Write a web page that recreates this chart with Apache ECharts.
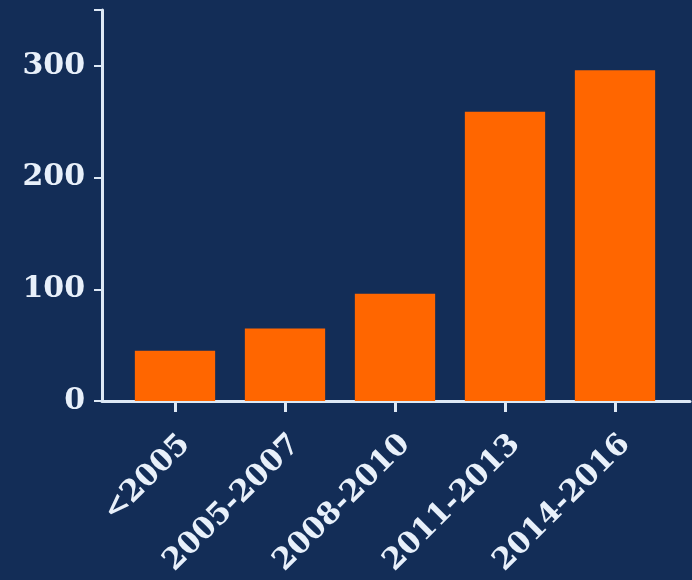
<!DOCTYPE html>
<html>
<head>
<meta charset="utf-8">
<script src="https://cdn.jsdelivr.net/npm/echarts@6/dist/echarts.min.js"></script>
<style>
html,body{margin:0;padding:0;background:#132d57;}
#chart{width:692px;height:580px;}
</style>
</head>
<body>
<div id="chart"></div>
<script>
const categories = ['<2005', '2005-2007', '2008-2010', '2011-2013', '2014-2016'];
const values = [45, 65, 96, 259, 296];
const yTicks = [0, 100, 200, 300];

const textColor = '#e8f0fa';
const lineColor = '#dde8f5';
const font = 'DejaVu Serif';

const chart = echarts.init(document.getElementById('chart'));
chart.setOption({
  backgroundColor: '#132d57',
  animation: false,
  grid: [
    {left: 102, right: 2, top: 10, bottom: 179},
    {left: 120, right: 22, top: 10, bottom: 179}
  ],
  xAxis: [
    {
      gridIndex: 0, type: 'value', min: 0, max: 1,
      axisLine: {show: true, onZero: false, lineStyle: {color: lineColor, width: 3}},
      axisTick: {show: false}, axisLabel: {show: false}, splitLine: {show: false}
    },
    {
      gridIndex: 1, type: 'category', data: categories,
      axisLine: {show: false},
      axisTick: {show: true, alignWithLabel: true, length: 11, lineStyle: {color: lineColor, width: 3}},
      axisLabel: {rotate: 45, margin: 28, verticalAlign: 'top', color: textColor, fontFamily: font, fontWeight: 'bold', fontSize: 30},
      splitLine: {show: false}
    }
  ],
  yAxis: [
    {
      gridIndex: 0, type: 'value', min: 0, max: 350, interval: 100,
      axisLine: {show: true, lineStyle: {color: lineColor, width: 3}},
      axisTick: {show: true, length: 8, lineStyle: {color: lineColor, width: 2}},
      axisLabel: {
        margin: 17, color: textColor, fontFamily: font, fontWeight: 'bold', fontSize: 30,
        formatter: v => yTicks.includes(v) ? String(v) : ''
      },
      splitLine: {show: false}
    },
    {
      gridIndex: 1, type: 'value', min: 0, max: 350, interval: 100, show: false
    }
  ],
  series: [{
    type: 'bar',
    xAxisIndex: 1, yAxisIndex: 1,
    data: values,
    barCategoryGap: '27%',
    itemStyle: {color: '#ff6600'},
    z: 1
  }]
});
</script>
</body>
</html>
